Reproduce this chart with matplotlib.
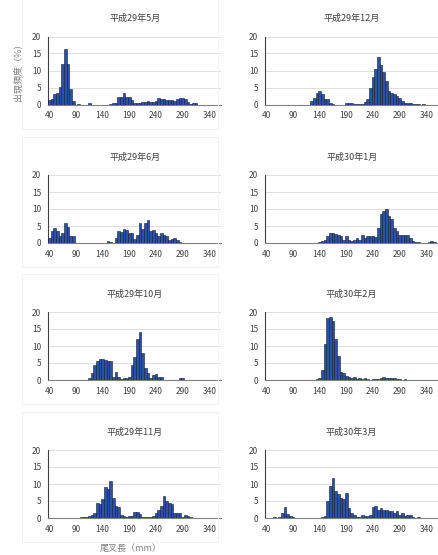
import matplotlib
matplotlib.use("Agg")
import matplotlib.pyplot as plt
from matplotlib.patches import Rectangle

plt.rcParams['font.family'] = ['Noto Sans CJK JP', 'DejaVu Sans']

# 5mm bins, 40 .. 360 mm
bin_mm = list(range(40, 365, 5))
tick_mm = [40, 90, 140, 190, 240, 290, 340]


def series(pairs):
    vals = [0.0] * len(bin_mm)
    for mm, v in pairs.items():
        vals[bin_mm.index(mm)] = v
    return vals


h29_may = series({40: 1.2, 45: 1.5, 50: 3.0, 55: 3.5, 60: 5.2, 65: 12.0, 70: 16.3,
                  75: 12.0, 80: 4.5, 85: 1.0, 95: 0.2, 115: 0.3, 155: 0.2, 160: 0.3,
                  165: 0.3, 170: 2.2, 175: 2.3, 180: 3.5, 185: 2.2, 190: 2.2, 195: 1.2,
                  200: 0.5, 205: 0.3, 210: 0.5, 215: 0.8, 220: 0.6, 225: 1.0, 230: 0.8,
                  235: 0.8, 240: 1.0, 245: 1.8, 250: 1.5, 255: 1.5, 260: 1.3, 265: 1.3,
                  270: 1.2, 275: 1.0, 280: 1.5, 285: 1.8, 290: 1.8, 295: 1.5, 300: 0.8,
                  305: 0.2, 310: 0.3, 315: 0.3})

h29_dec = series({125: 1.0, 130: 2.0, 135: 3.5, 140: 4.0, 145: 3.0, 150: 1.5, 155: 1.5,
                  160: 0.5, 165: 0.2, 190: 0.3, 195: 0.3, 200: 0.3, 205: 0.1, 210: 0.1,
                  215: 0.1, 220: 0.1, 225: 0.7, 230: 1.5, 235: 5.0, 240: 8.0, 245: 10.5,
                  250: 14.0, 255: 11.5, 260: 9.5, 265: 7.0, 270: 4.0, 275: 3.5, 280: 3.2,
                  285: 2.5, 290: 2.0, 295: 1.0, 300: 0.5, 305: 0.3, 310: 0.3, 315: 0.1,
                  320: 0.1, 325: 0.1, 335: 0.2})

h29_jun = series({40: 1.5, 45: 3.5, 50: 4.5, 55: 3.5, 60: 2.0, 65: 3.0, 70: 6.0, 75: 4.8,
                  80: 2.0, 85: 2.0, 100: 0.1, 135: 0.1, 150: 0.5, 155: 0.2, 165: 1.5,
                  170: 3.5, 175: 3.3, 180: 4.0, 185: 3.8, 190: 3.0, 195: 3.0, 200: 1.2,
                  205: 2.5, 210: 6.0, 215: 4.0, 220: 6.0, 225: 6.7, 230: 3.5, 235: 3.8,
                  240: 3.0, 245: 2.0, 250: 3.0, 255: 2.5, 260: 2.0, 265: 0.8, 270: 1.2,
                  275: 1.5, 280: 0.8, 285: 0.2, 295: 0.1})

h30_jan = series({135: 0.1, 140: 0.2, 145: 0.5, 150: 1.0, 155: 2.2, 160: 2.8, 165: 2.8,
                  170: 2.6, 175: 2.5, 180: 2.2, 185: 1.0, 190: 2.0, 195: 1.0, 200: 0.5,
                  205: 1.0, 210: 1.5, 215: 1.0, 220: 2.5, 225: 1.5, 230: 2.0, 235: 2.0,
                  240: 2.0, 245: 1.8, 250: 4.5, 255: 8.5, 260: 9.5, 265: 10.0, 270: 8.0,
                  275: 7.0, 280: 4.5, 285: 3.5, 290: 2.5, 295: 2.5, 300: 2.3, 305: 2.3,
                  310: 1.5, 315: 0.5, 320: 0.2, 325: 0.2, 330: 0.1, 335: 0.1, 340: 0.1,
                  345: 0.2, 350: 0.5, 355: 0.3})

h29_oct = series({115: 0.5, 120: 2.0, 125: 4.5, 130: 5.5, 135: 6.2, 140: 6.3, 145: 6.0,
                  150: 5.5, 155: 5.5, 160: 0.8, 165: 2.3, 170: 1.0, 175: 0.3, 180: 0.5,
                  185: 0.5, 190: 1.0, 195: 4.5, 200: 6.8, 205: 12.0, 210: 14.0, 215: 8.0,
                  220: 3.5, 225: 2.0, 230: 0.7, 235: 1.5, 240: 1.8, 245: 0.8, 250: 1.0,
                  285: 0.5, 290: 0.5})

h30_feb = series({135: 0.3, 140: 0.5, 145: 3.0, 150: 10.5, 155: 18.3, 160: 18.5,
                  165: 17.5, 170: 12.0, 175: 7.0, 180: 2.5, 185: 2.0, 190: 1.2, 195: 0.8,
                  200: 0.5, 205: 1.0, 210: 0.3, 215: 0.5, 220: 0.3, 225: 0.6, 230: 0.3,
                  235: 0.1, 240: 0.2, 245: 0.3, 250: 0.3, 255: 0.6, 260: 0.9, 265: 0.6,
                  270: 0.6, 275: 0.5, 280: 0.5, 285: 0.4, 290: 0.2, 295: 0.1, 300: 0.2})

h29_nov = series({100: 0.2, 105: 0.3, 110: 0.3, 115: 0.6, 120: 1.0, 125: 1.5, 130: 4.5,
                  135: 4.0, 140: 5.5, 145: 9.2, 150: 8.5, 155: 10.8, 160: 6.0, 165: 3.5,
                  170: 3.2, 175: 0.8, 180: 0.5, 185: 0.3, 190: 0.5, 195: 0.5, 200: 1.8,
                  205: 1.8, 210: 1.2, 215: 0.3, 220: 0.2, 225: 0.3, 230: 0.3, 235: 0.5,
                  240: 1.5, 245: 2.5, 250: 3.5, 255: 6.5, 260: 5.0, 265: 4.5, 270: 4.0,
                  275: 1.5, 280: 1.5, 285: 1.5, 290: 0.3, 295: 0.8, 300: 0.5, 305: 0.2})

h30_mar = series({55: 0.2, 65: 0.2, 70: 1.5, 75: 3.2, 80: 1.2, 85: 0.5, 90: 0.2,
                  145: 0.3, 150: 0.5, 155: 5.0, 160: 9.5, 165: 11.8, 170: 8.0, 175: 7.0,
                  180: 6.0, 185: 5.5, 190: 7.5, 195: 3.0, 200: 1.5, 205: 1.0, 210: 0.3,
                  215: 0.3, 220: 0.8, 225: 0.5, 230: 0.5, 235: 0.8, 240: 3.2, 245: 3.5,
                  250: 2.5, 255: 3.0, 260: 2.5, 265: 2.3, 270: 2.2, 275: 2.0, 280: 1.5,
                  285: 2.0, 290: 1.0, 295: 1.5, 300: 0.5, 305: 1.0, 310: 0.8, 315: 0.2,
                  325: 0.3})

panels = [
    ('平成29年5月', h29_may), ('平成29年12月', h29_dec),
    ('平成29年6月', h29_jun), ('平成30年1月', h30_jan),
    ('平成29年10月', h29_oct), ('平成30年2月', h30_feb),
    ('平成29年11月', h29_nov), ('平成30年3月', h30_mar),
]

W, H = 438, 555
fig = plt.figure(figsize=(W / 100, H / 100), dpi=100)
fig.patch.set_facecolor('white')

col_x = [48, 265]
row_bottom = [104.5, 243, 380, 518]
ax_w, ax_h = 173.3, 68

# faint chart-area frames (left column only is visible in the source)
for b in row_bottom:
    fig.patches.append(Rectangle((22 / W, 1 - (b + 24) / H), 196 / W, 130 / H,
                                 transform=fig.transFigure, fill=False,
                                 edgecolor='#f2f2f2', linewidth=0.8))

idx = list(range(len(bin_mm)))
tick_pos = [bin_mm.index(t) for t in tick_mm]

for i, (title, vals) in enumerate(panels):
    r, c = divmod(i, 2)
    ax = fig.add_axes([col_x[c] / W, 1 - row_bottom[r] / H, ax_w / W, ax_h / H])
    ax.bar(idx, vals, width=1.0, color='#2f52a0', edgecolor='#0d1a40', linewidth=0.4,
           zorder=3)
    ax.set_xlim(-0.5, len(bin_mm) - 0.5)
    ax.set_ylim(0, 20)
    ax.set_yticks([0, 5, 10, 15, 20])
    ax.set_xticks(tick_pos)
    ax.set_xticklabels([str(t) for t in tick_mm])
    ax.tick_params(length=0, labelsize=6, colors='#404040', pad=5)
    ax.grid(axis='y', color='#d9d9d9', linewidth=0.6, zorder=0)
    for s in ['top', 'right']:
        ax.spines[s].set_visible(False)
    ax.spines['left'].set_color('#404040')
    ax.spines['left'].set_linewidth(0.8)
    ax.spines['bottom'].set_color('#808080')
    ax.spines['bottom'].set_linewidth(0.8)
    ax.set_title(title, fontsize=6.5, color='#404040', pad=11)

fig.text(18 / W, 1 - 70 / H, '出現頻度（%）', rotation=90, ha='center', va='center',
         fontsize=6.5, color='#808080')
fig.text(131 / W, 1 - 548 / H, '尾叉長（mm）', ha='center', va='center',
         fontsize=6.5, color='#808080')

fig.savefig('out.png', dpi=100)
